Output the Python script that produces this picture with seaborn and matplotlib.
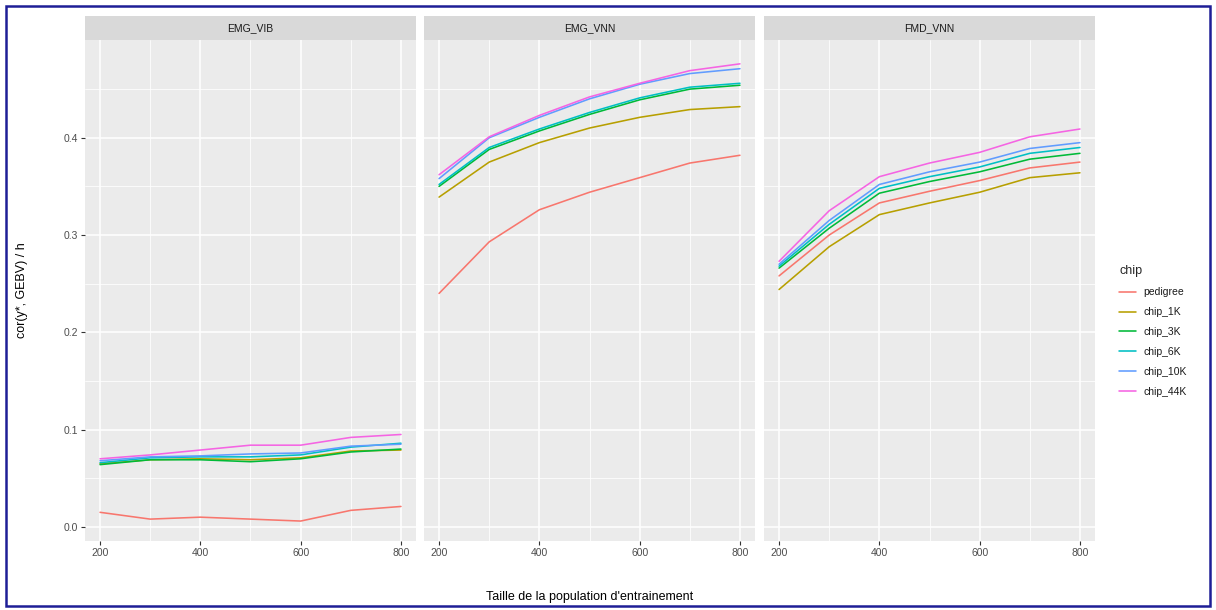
import numpy as np
import pandas as pd
import matplotlib
matplotlib.use("Agg")
import matplotlib.pyplot as plt
from matplotlib.lines import Line2D
from matplotlib.patches import Rectangle
import seaborn as sns

# ---------------- data ----------------
sizes = [200, 300, 400, 500, 600, 700, 800]
populations = ["EMG_VIB", "EMG_VNN", "FMD_VNN"]
chips = ["pedigree", "chip_1K", "chip_3K", "chip_6K", "chip_10K", "chip_44K"]

emg_vib = {
    "pedigree": [0.015, 0.008, 0.010, 0.008, 0.006, 0.017, 0.021],
    "chip_1K":  [0.065, 0.069, 0.070, 0.069, 0.071, 0.078, 0.079],
    "chip_3K":  [0.064, 0.069, 0.069, 0.067, 0.070, 0.077, 0.080],
    "chip_6K":  [0.066, 0.071, 0.072, 0.072, 0.074, 0.082, 0.086],
    "chip_10K": [0.068, 0.072, 0.073, 0.075, 0.076, 0.083, 0.085],
    "chip_44K": [0.070, 0.074, 0.079, 0.084, 0.084, 0.092, 0.095],
}
emg_vnn = {
    "pedigree": [0.240, 0.293, 0.326, 0.344, 0.359, 0.374, 0.382],
    "chip_1K":  [0.339, 0.375, 0.395, 0.410, 0.421, 0.429, 0.432],
    "chip_3K":  [0.350, 0.388, 0.407, 0.424, 0.439, 0.450, 0.454],
    "chip_6K":  [0.352, 0.390, 0.409, 0.426, 0.441, 0.452, 0.456],
    "chip_10K": [0.358, 0.400, 0.421, 0.440, 0.455, 0.466, 0.471],
    "chip_44K": [0.362, 0.401, 0.423, 0.442, 0.456, 0.469, 0.476],
}
fmd_vnn = {
    "pedigree": [0.258, 0.300, 0.333, 0.345, 0.356, 0.369, 0.375],
    "chip_1K":  [0.244, 0.288, 0.321, 0.333, 0.344, 0.359, 0.364],
    "chip_3K":  [0.266, 0.307, 0.343, 0.355, 0.365, 0.378, 0.384],
    "chip_6K":  [0.268, 0.311, 0.348, 0.360, 0.370, 0.384, 0.390],
    "chip_10K": [0.270, 0.315, 0.352, 0.365, 0.375, 0.389, 0.395],
    "chip_44K": [0.273, 0.325, 0.360, 0.374, 0.385, 0.401, 0.409],
}
x_ticks = [200, 400, 600, 800]
y_ticks = [0.0, 0.1, 0.2, 0.3, 0.4]
x_label = "Taille de la population d'entrainement"
y_label = "cor(y*, GEBV) / h"
legend_title = "chip"

colors = ["#F8766D", "#B79F00", "#00BA38", "#00BFC4", "#619CFF", "#F564E3"]

rows = []
for pop, table in zip(populations, [emg_vib, emg_vnn, fmd_vnn]):
    for chip in chips:
        for n, v in zip(sizes, table[chip]):
            rows.append({"pop": pop, "chip": chip, "n": n, "cor": v})
df = pd.DataFrame(rows)

# ---------------- style ----------------
sns.set_theme(style="darkgrid", rc={
    "axes.facecolor": "#EBEBEB",
    "grid.color": "white",
    "axes.edgecolor": "#EBEBEB",
})
plt.rcParams["font.family"] = ["Liberation Sans", "DejaVu Sans"]

W, H = 1216, 610
fig = plt.figure(figsize=(W / 100, H / 100), dpi=100)

def fx(px):
    return px / W

def fy(py):
    return 1 - py / H

panel_left = [85, 424, 764]
panel_w = 331
top_px, bot_px = 40, 541
strip_h = 24

ylim = (-0.0145, 0.5005)
xr = max(sizes) - min(sizes)
xlim = (min(sizes) - 0.05 * xr, max(sizes) + 0.05 * xr)

axes = []
for i, pop in enumerate(populations):
    ax = fig.add_axes([fx(panel_left[i]), fy(bot_px), panel_w / W, (bot_px - top_px) / H])
    sub = df[df["pop"] == pop]
    sns.lineplot(data=sub, x="n", y="cor", hue="chip", hue_order=chips,
                 palette=colors, ax=ax, legend=False, linewidth=1.15)
    ax.set_xlim(*xlim)
    ax.set_ylim(*ylim)
    ax.set_xticks(x_ticks)
    ax.set_xticks([300, 500, 700], minor=True)
    ax.set_yticks(y_ticks)
    ax.set_yticks([0.05, 0.15, 0.25, 0.35, 0.45], minor=True)
    ax.grid(which="major", color="white", linewidth=1.1)
    ax.grid(which="minor", color="white", linewidth=0.55)
    ax.set_xlabel("")
    ax.set_ylabel("")
    ax.tick_params(axis="both", which="major", length=3, width=0.8, color="#333333",
                   labelsize=7.5, labelcolor="#4D4D4D", pad=2, bottom=True, left=(i == 0))
    ax.tick_params(axis="both", which="minor", length=0)
    ax.set_xticklabels([str(t) for t in x_ticks])
    if i == 0:
        ax.set_yticklabels([f"{t:.1f}" for t in y_ticks])
    else:
        ax.set_yticklabels([])
        ax.tick_params(axis="y", left=False)
    for s in ax.spines.values():
        s.set_visible(False)
    # strip
    sax = fig.add_axes([fx(panel_left[i]), fy(top_px), panel_w / W, strip_h / H])
    sax.set_facecolor("#D9D9D9")
    sax.set_xticks([]); sax.set_yticks([])
    for s in sax.spines.values():
        s.set_visible(False)
    sax.text(0.5, 0.5, pop, ha="center", va="center", fontsize=7.5, color="#1A1A1A",
             transform=sax.transAxes)
    axes.append(ax)

fig.text(fx(590), fy(597), x_label, ha="center", va="center", fontsize=9, color="black")
fig.text(fx(22), fy(290), y_label, ha="center", va="center", rotation=90, fontsize=9,
         color="black")

handles = [Line2D([0], [0], color=c, lw=1.15) for c in colors]
leg = fig.legend(handles, chips, title=legend_title, loc="upper left",
                 bbox_to_anchor=(fx(1110), fy(256)), frameon=False, fontsize=7.5,
                 title_fontsize=9, handlelength=1.6, labelspacing=0.95,
                 handletextpad=0.7, alignment="left")
for t in leg.get_texts():
    t.set_color("#1A1A1A")

fig.patches.append(Rectangle((fx(6), fy(606)), fx(1204), (600) / H, transform=fig.transFigure,
                             fill=False, edgecolor="#1E1E96", linewidth=1.8))

fig.savefig("out.png", dpi=100, facecolor="white")
